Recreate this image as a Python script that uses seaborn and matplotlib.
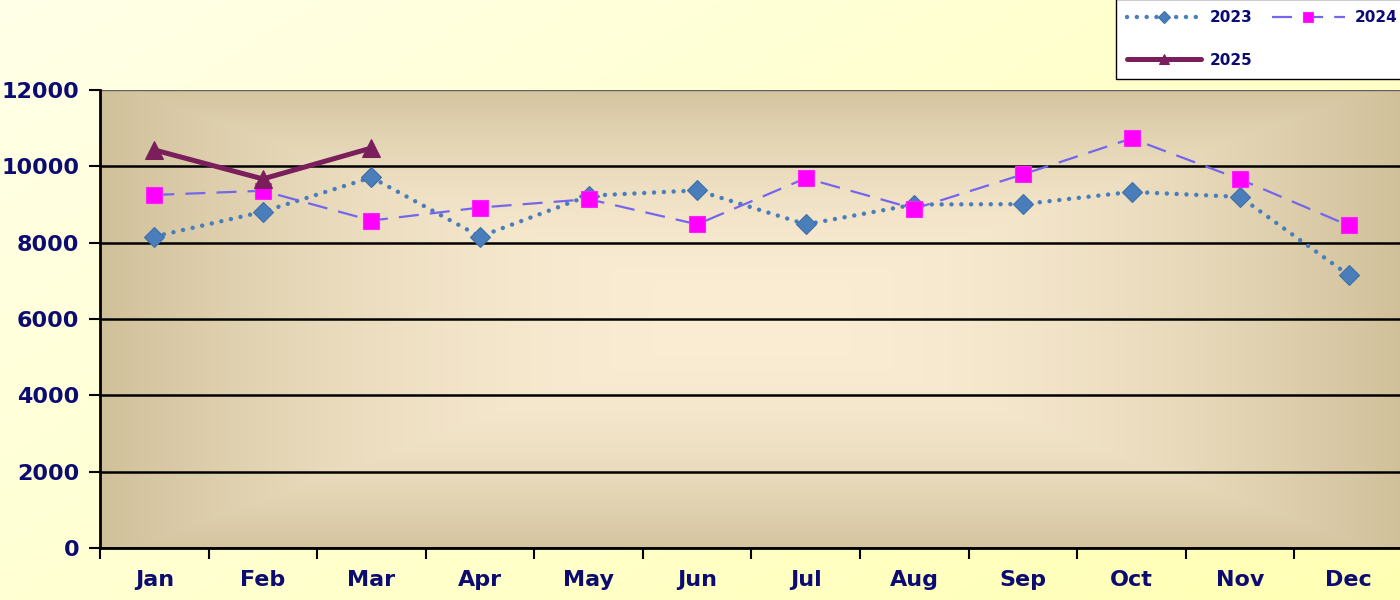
import numpy as np
import pandas as pd
import matplotlib
matplotlib.use("Agg")
import matplotlib.pyplot as plt
from matplotlib.colors import to_rgb
import seaborn as sns

months = ["Jan", "Feb", "Mar", "Apr", "May", "Jun", "Jul", "Aug", "Sep", "Oct", "Nov", "Dec"]
v2023 = [8160, 8810, 9710, 8160, 9230, 9370, 8480, 9000, 9010, 9330, 9200, 7150]
v2024 = [9250, 9360, 8580, 8920, 9140, 8480, 9690, 8890, 9790, 10730, 9660, 8450]
v2025 = [10430, 9670, 10480]
yticks = [0, 2000, 4000, 6000, 8000, 10000, 12000]

sns.set_theme(style="white")
plt.rcParams['font.family'] = ['DejaVu Sans']
navy = '#0B0B72'

fig = plt.figure(figsize=(14, 6), dpi=100)

# figure background gradient
bg = fig.add_axes([0, 0, 1, 1], zorder=-10)
gx, gy = np.meshgrid(np.linspace(0, 1, 300), np.linspace(0, 1, 150))
tb = np.clip((gx * 0.6 + gy * 0.4), 0, 1)[..., None]
c0 = np.array(to_rgb('#FFFFE8')); c1 = np.array(to_rgb('#FFFFB4'))
bg.imshow(c0 * (1 - tb) + c1 * tb, extent=[0, 1, 0, 1], aspect='auto', origin='upper')
bg.set_axis_off()

ax = fig.add_axes([100 / 1400, 1 - 548 / 600, 1303 / 1400, (548 - 90) / 600])
ax.set_facecolor('none')

# plot-area gradient
px, py = np.meshgrid(np.linspace(0, 1, 400), np.linspace(0, 1, 200))
t = np.maximum(np.abs(2 * px - 1), np.abs(2 * py - 1) * 0.95)
t = (t ** 2.0)[..., None]
cc = np.array(to_rgb('#FBEDD4')); ce = np.array(to_rgb('#D0C09A'))
ax.imshow(cc * (1 - t) + ce * t, extent=[0, 1, 0, 1], transform=ax.transAxes,
          aspect='auto', zorder=0, origin='upper')

x = np.arange(len(months))
df23 = pd.DataFrame({'x': x, 'y': v2023})
df24 = pd.DataFrame({'x': x, 'y': v2024})
df25 = pd.DataFrame({'x': x[:len(v2025)], 'y': v2025})

sns.lineplot(data=df23, x='x', y='y', ax=ax, color='#4A7EBB', lw=3.2,
             linestyle=(0, (0.01, 2.2)), dash_capstyle='round',
             marker='D', markersize=10, markeredgecolor='#3F6FA8', markeredgewidth=0.8,
             label='2023', zorder=3)
sns.lineplot(data=df24, x='x', y='y', ax=ax, color='#7466EC', lw=1.6,
             linestyle=(0, (9, 5)),
             marker='s', markersize=12, markerfacecolor='#FF00FF', markeredgecolor='#FF20FF',
             markeredgewidth=0.8, label='2024', zorder=4)
sns.lineplot(data=df25, x='x', y='y', ax=ax, color='#7A1E5C', lw=3.6,
             marker='^', markersize=13, markerfacecolor='#7A1E5C', markeredgecolor='#7A1E5C',
             label='2025', zorder=5)

ax.set_xlim(-0.5, 11.5)
ax.set_ylim(0, 12000)
ax.set_xlabel('')
ax.set_ylabel('')

ax.set_yticks(yticks)
ax.set_yticklabels([str(v) for v in yticks])
ax.set_xticks(x)
ax.set_xticklabels(months)
ax.set_xticks(np.arange(-0.5, 11.0, 1.0), minor=True)

ax.tick_params(axis='y', which='major', direction='out', length=8, width=1.5, color='black',
               pad=7, labelsize=16, labelcolor=navy, left=True)
ax.tick_params(axis='x', which='major', length=0, pad=16, labelsize=16, labelcolor=navy)
ax.tick_params(axis='x', which='minor', direction='out', length=8, width=1.5, color='black',
               bottom=True)
for lab in ax.get_xticklabels() + ax.get_yticklabels():
    lab.set_fontweight('bold')

ax.yaxis.grid(True, color='black', lw=1.8, zorder=1)
ax.set_axisbelow(True)
glines = ax.get_ygridlines()
glines[-1].set_color('#606060')
glines[-1].set_linewidth(1.0)

for s in ['top', 'right']:
    ax.spines[s].set_visible(False)
ax.spines['left'].set_color('black'); ax.spines['left'].set_linewidth(2)
ax.spines['bottom'].set_color('black'); ax.spines['bottom'].set_linewidth(2)
ax.spines['left'].set_zorder(6)

h, l = ax.get_legend_handles_labels()
order = [0, 2, 1]
leg = ax.legend([h[i] for i in order], [l[i] for i in order], ncol=2,
                loc='lower left', bbox_to_anchor=(1116 / 1400, 1 - 79 / 600),
                bbox_transform=fig.transFigure, borderaxespad=0, frameon=True, fancybox=False,
                edgecolor='black', framealpha=1, facecolor='white',
                prop={'size': 11, 'weight': 'bold'}, handlelength=4.8,
                handletextpad=0.6, columnspacing=1.25, labelspacing=1.8,
                borderpad=0.75, markerscale=0.6)
leg.get_frame().set_linewidth(1.0)
for txt in leg.get_texts():
    txt.set_color(navy)

fig.savefig('out.png', dpi=100)
